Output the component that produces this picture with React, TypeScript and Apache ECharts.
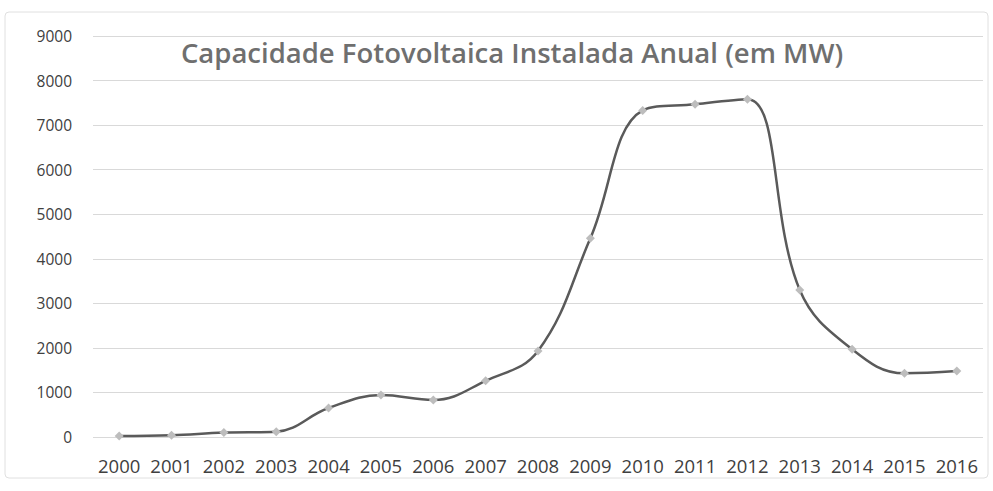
import React, { useEffect, useRef } from "react";
import * as echarts from "echarts";

const years = ["2000","2001","2002","2003","2004","2005","2006","2007","2008","2009","2010","2011","2012","2013","2014","2015","2016"];
const capacity = [20, 40, 100, 120, 650, 940, 830, 1260, 1930, 4460, 7330, 7470, 7580, 3300, 1970, 1430, 1480];
const titleText = "Capacidade Fotovoltaica Instalada Anual (em MW)";

export default function App() {
  const ref = useRef<HTMLDivElement>(null);
  useEffect(() => {
    document.body.style.margin = "0";
    const chart = echarts.init(ref.current!, null, { renderer: "svg" });
    chart.setOption({
      animation: false,
      backgroundColor: "#ffffff",
      title: {
        text: titleText,
        left: 507,
        textAlign: "center",
        top: 33,
        textStyle: { fontFamily: "Open Sans", fontSize: 27.5, fontWeight: 600, color: "#6f6f6f" },
      },
      graphic: [
        {
          type: "rect",
          shape: { x: 5, y: 12, width: 983, height: 466, r: 4 },
          style: { fill: "none", stroke: "#e0e0e0", lineWidth: 1 },
          z: -1,
        },
      ],
      grid: { left: 93, right: 10, top: 36, bottom: 54, containLabel: false },
      xAxis: {
        type: "category",
        data: years,
        boundaryGap: true,
        axisLine: { show: false },
        axisTick: { show: false },
        axisLabel: { fontFamily: "Open Sans", fontSize: 18.5, color: "#404040", margin: 19, interval: 0, hideOverlap: false },
      },
      yAxis: {
        type: "value",
        min: 0,
        max: 9000,
        interval: 1000,
        axisLine: { show: false },
        axisTick: { show: false },
        axisLabel: {
          fontFamily: "Open Sans",
          fontSize: 15.5,
          color: "#404040",
          margin: 21,
          formatter: (v: number) => String(v),
        },
        splitLine: { lineStyle: { color: "#d9d9d9", width: 1 } },
      },
      series: [
        {
          type: "line",
          data: capacity,
          smooth: 0.4,
          symbol: "diamond",
          symbolSize: 9,
          itemStyle: { color: "#bdbdbd" },
          lineStyle: { color: "#5a5a5a", width: 2.5 },
        },
      ],
    });
    return () => chart.dispose();
  }, []);
  return <div ref={ref} style={{ position: "absolute", left: 0, top: 0, width: 993, height: 491 }} />;
}
